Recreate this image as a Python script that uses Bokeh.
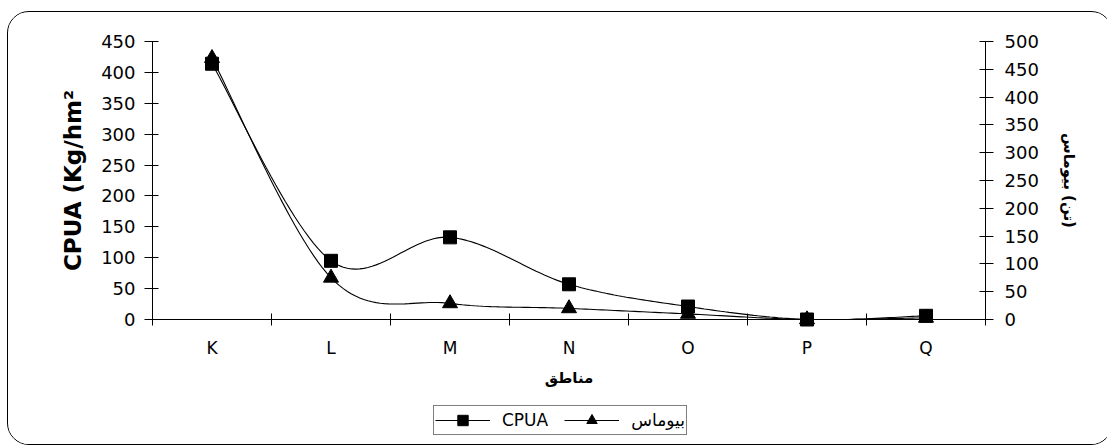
import numpy as np
from bokeh.plotting import figure
from bokeh.layouts import column
from bokeh.models import (Range1d, LinearAxis, FixedTicker, CustomJSTickFormatter,
                          Legend, LegendItem)
from bokeh.embed import file_html
from bokeh.resources import INLINE

# ---------------- data ----------------
categories = ["K", "L", "M", "N", "O", "P", "Q"]
cpua = [414, 95, 133, 57, 21, 0, 6]          # left axis
biomass = [470, 75, 29, 20, 10, 0, 3]        # right axis
left_ticks = [0, 50, 100, 150, 200, 250, 300, 350, 400, 450]
right_ticks = [0, 50, 100, 150, 200, 250, 300, 350, 400, 450, 500]

x_label = "مناطق"
left_label = "CPUA (Kg/hm²"
right_label = "بیوماس\u200E (تن)"
cpua_name = "CPUA"
bio_name = "بیوماس"

FONT = "DejaVu Sans"
W = 1104


def smooth(xs, ys, n=30):
    """Excel-style smoothed line (cubic Bezier, neighbour chord / 6)."""
    xs = np.asarray(xs, float)
    ys = np.asarray(ys, float)
    px = np.concatenate([[xs[0]], xs, [xs[-1]]])
    py = np.concatenate([[ys[0]], ys, [ys[-1]]])
    t = np.linspace(0, 1, n)
    ox, oy = [], []
    for i in range(len(xs) - 1):
        p0x, p0y = xs[i], ys[i]
        p3x, p3y = xs[i + 1], ys[i + 1]
        c1x = p0x + (px[i + 2] - px[i]) / 6
        c1y = p0y + (py[i + 2] - py[i]) / 6
        c2x = p3x - (px[i + 3] - px[i + 1]) / 6
        c2y = p3y - (py[i + 3] - py[i + 1]) / 6
        a = (1 - t) ** 3
        b = 3 * (1 - t) ** 2 * t
        c = 3 * (1 - t) * t ** 2
        d = t ** 3
        ox.extend(a * p0x + b * c1x + c * c2x + d * p3x)
        oy.extend(a * p0y + b * c1y + c * c2y + d * p3y)
    return ox, oy


xpos = [i + 0.5 for i in range(len(categories))]

p = figure(width=W, height=377,
           x_range=Range1d(0, len(categories)), y_range=Range1d(0, 450),
           output_backend="svg", toolbar_location=None,
           min_border_left=144, min_border_right=127,
           min_border_top=29, min_border_bottom=70,
           outline_line_color=None, background_fill_color="white",
           border_fill_color="white")
p.extra_y_ranges = {"bio": Range1d(0, 500)}
p.xgrid.visible = False
p.ygrid.visible = False

# x axis
xa = p.xaxis[0]
xa.ticker = FixedTicker(ticks=xpos, minor_ticks=list(range(len(categories) + 1)))
xa.formatter = CustomJSTickFormatter(args=dict(labels=categories),
                                     code="return labels[Math.floor(tick)] || '';")
xa.major_tick_in = 0
xa.major_tick_out = 0
xa.minor_tick_in = 6
xa.minor_tick_out = 6
xa.minor_tick_line_color = "black"
xa.axis_line_color = "black"
xa.major_label_standoff = 12
xa.major_label_text_font = FONT
xa.major_label_text_font_size = "17px"
xa.major_label_text_color = "black"
xa.axis_label = x_label
xa.axis_label_text_font = FONT
xa.axis_label_text_font_size = "15px"
xa.axis_label_text_font_style = "bold"
xa.axis_label_text_color = "black"
xa.axis_label_standoff = 8

# left y axis
ya = p.yaxis[0]
ya.ticker = FixedTicker(ticks=left_ticks)
ya.major_tick_in = 6
ya.major_tick_out = 8
ya.minor_tick_in = 0
ya.minor_tick_out = 0
ya.major_tick_line_color = "black"
ya.axis_line_color = "black"
ya.major_label_standoff = 9
ya.major_label_text_font = FONT
ya.major_label_text_font_size = "18px"
ya.major_label_text_color = "black"
ya.axis_label = left_label
ya.axis_label_text_font = FONT
ya.axis_label_text_font_size = "23px"
ya.axis_label_text_font_style = "bold"
ya.axis_label_text_color = "black"
ya.axis_label_standoff = 12

# right y axis
ra = LinearAxis(y_range_name="bio", ticker=FixedTicker(ticks=right_ticks))
ra.major_tick_in = 6
ra.major_tick_out = 8
ra.minor_tick_in = 0
ra.minor_tick_out = 0
ra.major_tick_line_color = "black"
ra.axis_line_color = "black"
ra.major_label_standoff = 11
ra.major_label_text_font = FONT
ra.major_label_text_font_size = "18px"
ra.major_label_text_color = "black"
ra.axis_label = right_label
ra.axis_label_text_font = FONT
ra.axis_label_text_font_size = "15px"
ra.axis_label_text_font_style = "bold"
ra.axis_label_text_color = "black"
ra.axis_label_standoff = 18
p.add_layout(ra, "right")

# series
cx, cy = smooth(xpos, cpua)
p.line(cx, cy, line_color="black", line_width=1.1)
p.scatter(xpos, cpua, marker="square", size=13, color="black", level="overlay")

bx, by = smooth(xpos, biomass)
p.line(bx, by, line_color="black", line_width=1.1, y_range_name="bio")
p.scatter(xpos, biomass, marker="triangle", size=15, color="black",
          y_range_name="bio", level="overlay")

# ---------------- legend strip (below the chart) ----------------
# The strip's ranges keep its copies of the series out of view; they only
# supply the legend glyphs.
q = figure(width=W, height=55, x_range=Range1d(-10, -9), y_range=Range1d(-10, -9),
           output_backend="svg", toolbar_location=None,
           x_axis_location=None, y_axis_location=None,
           min_border_left=0, min_border_right=0, min_border_top=0, min_border_bottom=0,
           outline_line_color=None, background_fill_color="white",
           border_fill_color="white")
q.xgrid.visible = False
q.ygrid.visible = False
k1 = q.line(xpos, cpua, line_color="black", line_width=1.1)
k2 = q.scatter(xpos, cpua, marker="square", size=13, color="black")
k3 = q.line(xpos, biomass, line_color="black", line_width=1.1)
k4 = q.scatter(xpos, biomass, marker="triangle", size=15, color="black")

legend = Legend(items=[LegendItem(label=cpua_name, renderers=[k1, k2]),
                       LegendItem(label=bio_name, renderers=[k3, k4])],
                location=(281, 9), orientation="horizontal",
                border_line_color="black", border_line_width=1,
                background_fill_alpha=1, padding=1, margin=0,
                spacing=16, glyph_width=55, glyph_height=26,
                label_standoff=12,
                label_text_font=FONT, label_text_font_size="17px",
                label_text_color="black")
q.add_layout(legend)

layout = column(p, q, spacing=0)
layout.styles = {"margin-left": "7px", "margin-top": "11px",
                 "border": "1px solid black", "border-radius": "22px",
                 "overflow": "hidden"}

open("out.html", "w").write(file_html(layout, INLINE))
